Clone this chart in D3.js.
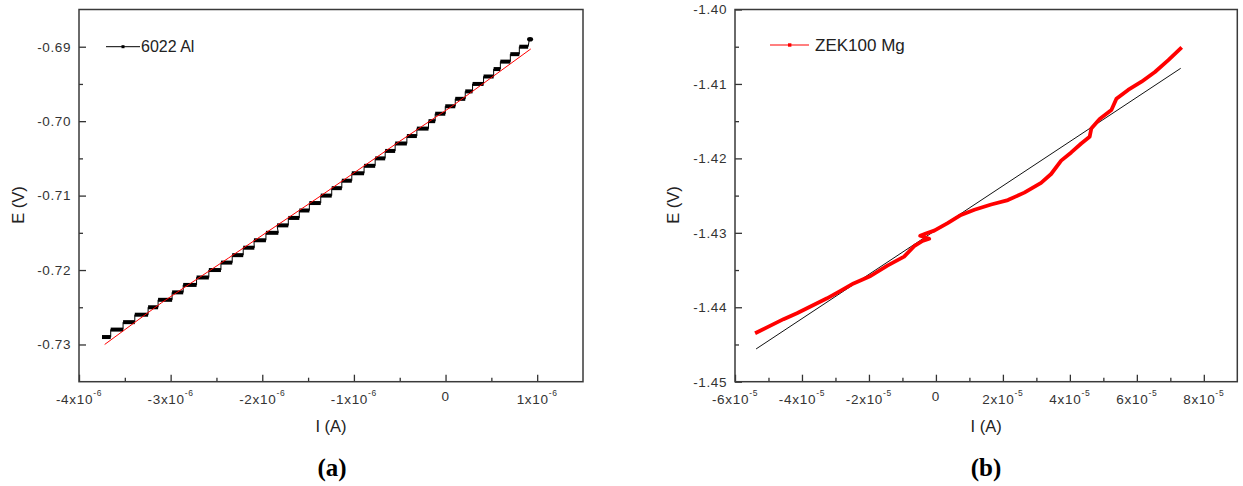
<!DOCTYPE html>
<html>
<head>
<meta charset="utf-8">
<script src="https://cdn.jsdelivr.net/npm/d3@7"></script>
<style>
  body { margin: 0; background: #fff; }
  svg { display: block; }
  text { font-family: Arial, "Liberation Sans", sans-serif; }
  text.caption { font-family: "Liberation Serif", "Times New Roman", serif; font-weight: bold; }
</style>
</head>
<body>
<svg id="chart" width="1243" height="486"></svg>
<script>
// ---- panel (a): 6022 Al, potential recorded in 1 mV steps ----
const alStepE = [-0.729, -0.728, -0.727, -0.726, -0.725, -0.724, -0.723, -0.722, -0.721, -0.720,
                 -0.719, -0.718, -0.717, -0.716, -0.715, -0.714, -0.713, -0.712, -0.711, -0.710,
                 -0.709, -0.708, -0.707, -0.706, -0.705, -0.704, -0.703, -0.702, -0.701, -0.700,
                 -0.699, -0.698, -0.697, -0.696, -0.695, -0.694, -0.693, -0.692, -0.691, -0.690, -0.689];
const alStepStart = [-3.749e-6, -3.654e-6, -3.519e-6, -3.391e-6, -3.246e-6, -3.137e-6, -2.984e-6, -2.863e-6, -2.717e-6, -2.583e-6,
                     -2.451e-6, -2.328e-6, -2.208e-6, -2.091e-6, -1.960e-6, -1.839e-6, -1.716e-6, -1.596e-6, -1.486e-6, -1.362e-6,
                     -1.242e-6, -1.132e-6, -1.023e-6, -0.889e-6, -0.768e-6, -0.659e-6, -0.550e-6, -0.422e-6, -0.313e-6, -0.186e-6,
                     -0.113e-6, -0.003e-6, 0.106e-6, 0.215e-6, 0.295e-6, 0.415e-6, 0.525e-6, 0.598e-6, 0.707e-6, 0.805e-6, 0.915e-6];
const alStepEnd = [-3.654e-6, -3.519e-6, -3.391e-6, -3.246e-6, -3.137e-6, -2.984e-6, -2.863e-6, -2.717e-6, -2.583e-6, -2.451e-6,
                   -2.328e-6, -2.208e-6, -2.087e-6, -1.960e-6, -1.825e-6, -1.716e-6, -1.596e-6, -1.486e-6, -1.362e-6, -1.242e-6,
                   -1.132e-6, -1.023e-6, -0.889e-6, -0.768e-6, -0.659e-6, -0.550e-6, -0.422e-6, -0.313e-6, -0.186e-6, -0.113e-6,
                   -0.003e-6, 0.106e-6, 0.215e-6, 0.295e-6, 0.415e-6, 0.525e-6, 0.598e-6, 0.707e-6, 0.805e-6, 0.901e-6, 0.930e-6];
// fitted line (red)
const alFitI = [-3.72e-6, -3.10e-6, -2.37e-6, -1.37e-6, -0.50e-6, 0.07e-6, 0.93e-6];
const alFitE = [-0.7300, -0.7244, -0.7184, -0.7101, -0.7027, -0.6980, -0.6903];

// ---- panel (b): ZEK100 Mg ----
const mgI = [-5.40e-5, -5.00e-5, -4.55e-5, -4.15e-5, -3.70e-5, -3.25e-5, -2.85e-5, -2.46e-5, -1.95e-5, -1.45e-5,
             -0.95e-5, -0.65e-5, -0.40e-5, -0.20e-5, -0.47e-5, -0.30e-5, -0.05e-5, 0.35e-5, 0.75e-5, 1.15e-5,
             1.65e-5, 2.15e-5, 2.64e-5, 3.14e-5, 3.44e-5, 3.74e-5, 4.04e-5, 4.34e-5, 4.59e-5, 4.64e-5,
             4.89e-5, 5.24e-5, 5.39e-5, 5.74e-5, 6.14e-5, 6.54e-5, 6.94e-5, 7.34e-5];
const mgE = [-1.4435, -1.4426, -1.4416, -1.4408, -1.4398, -1.4388, -1.4378, -1.4368, -1.4358, -1.4344,
             -1.4332, -1.4318, -1.4311, -1.4308, -1.4304, -1.4301, -1.4297, -1.4287, -1.4276, -1.4269,
             -1.4262, -1.4256, -1.4246, -1.4233, -1.4221, -1.4203, -1.4192, -1.4180, -1.4171, -1.4160,
             -1.4147, -1.4135, -1.4120, -1.4108, -1.4097, -1.4084, -1.4068, -1.4051];
// fitted line (black)
const mgFitI = [-5.37e-5, 7.31e-5];
const mgFitE = [-1.4456, -1.4079];

// ---- axes ----
const aXTicks = [-4e-6, -3e-6, -2e-6, -1e-6, 0, 1e-6];
const aXMinor = [-3.5e-6, -2.5e-6, -1.5e-6, -0.5e-6, 0.5e-6];
const aYTicks = [-0.73, -0.72, -0.71, -0.70, -0.69];
const aYMinor = [-0.725, -0.715, -0.705, -0.695];
const bXTicks = [-6e-5, -4e-5, -2e-5, 0, 2e-5, 4e-5, 6e-5, 8e-5];
const bXMinor = [-5e-5, -3e-5, -1e-5, 1e-5, 3e-5, 5e-5, 7e-5];
const bYTicks = [-1.45, -1.44, -1.43, -1.42, -1.41, -1.40];
const bYMinor = [-1.445, -1.435, -1.425, -1.415, -1.405];

const svg = d3.select("#chart");

function drawFrame(p) {
    const g = svg.append("g");
    const x = p.x, y = p.y;
    const [x0, x1] = x.range(), [y0, y1] = y.range();

    // inward major / minor ticks
    g.append("g").attr("transform", `translate(0,${y0})`)
        .call(d3.axisBottom(x).tickValues(p.xTicks).tickSizeInner(-7).tickSizeOuter(0).tickFormat(""));
    g.append("g").attr("transform", `translate(0,${y0})`)
        .call(d3.axisBottom(x).tickValues(p.xMinor).tickSizeInner(-4).tickSizeOuter(0).tickFormat(""));
    g.append("g").attr("transform", `translate(${x0},0)`)
        .call(d3.axisLeft(y).tickValues(p.yTicks).tickSizeInner(-7).tickSizeOuter(0).tickFormat(""));
    g.append("g").attr("transform", `translate(${x0},0)`)
        .call(d3.axisLeft(y).tickValues(p.yMinor).tickSizeInner(-4).tickSizeOuter(0).tickFormat(""));
    g.selectAll(".domain").remove();
    g.selectAll(".tick line").attr("stroke", "#333").attr("stroke-width", 1.3);

    // frame
    g.append("rect")
        .attr("x", x0).attr("y", y1)
        .attr("width", x1 - x0).attr("height", y0 - y1)
        .attr("fill", "none").attr("stroke", "#3a3a3a").attr("stroke-width", 1.5);

    // x tick labels with superscript exponent
    p.xTicks.forEach(v => {
        const t = g.append("text")
            .attr("x", x(v)).attr("y", v === 0 ? 401 : 404)
            .attr("text-anchor", "middle")
            .attr("font-size", 13.5).attr("fill", "#333")
            .attr("letter-spacing", 0.7);
        if (v === 0) { t.text("0"); return; }
        const m = Math.round(v / Math.pow(10, p.expo));
        t.append("tspan").text(m + "x10");
        t.append("tspan").attr("dy", -8).attr("font-size", 8.5).text(p.expo);
    });

    // y tick labels
    p.yTicks.forEach(v => {
        g.append("text")
            .attr("x", x0 - 8).attr("y", y(v)).attr("dy", "0.36em")
            .attr("text-anchor", "end")
            .attr("font-size", 13.5).attr("fill", "#333")
            .attr("letter-spacing", 0.6)
            .text(v.toFixed(2));
    });

    // axis titles
    g.append("text")
        .attr("x", (x0 + x1) / 2).attr("y", 432)
        .attr("text-anchor", "middle").attr("font-size", 16.5).attr("fill", "#222")
        .text("I (A)");
    g.append("text")
        .attr("transform", `translate(${p.yTitleX},205) rotate(-90)`)
        .attr("text-anchor", "middle").attr("dy", "0.36em")
        .attr("font-size", 16.5).attr("fill", "#222")
        .text("E (V)");

    // caption
    svg.append("text")
        .attr("class", "caption")
        .attr("x", p.captionX).attr("y", 476)
        .attr("text-anchor", "middle")
        .attr("font-size", 25)
        .text(p.caption);
}

// ---------- panel (a) ----------
const xa = d3.scaleLinear().domain([-4e-6, 1.5e-6]).range([79, 583]);
const ya = d3.scaleLinear().domain([-0.735, -0.685]).range([381.7, 9.5]);

drawFrame({ x: xa, y: ya, xTicks: aXTicks, xMinor: aXMinor, yTicks: aYTicks, yMinor: aYMinor,
            expo: -6, yTitleX: 18, caption: "(a)", captionX: 332 });

const steps = alStepE.map((e, i) => ({ e: e, i0: alStepStart[i], i1: alStepEnd[i] }));
const stairPts = [];
steps.forEach(s => { stairPts.push([s.i0, s.e]); stairPts.push([s.i1, s.e]); });

const gA = svg.append("g");
gA.append("path")
    .datum(stairPts)
    .attr("fill", "none").attr("stroke", "#000").attr("stroke-width", 1)
    .attr("d", d3.line().x(d => xa(d[0])).y(d => ya(d[1])));

gA.selectAll("line.step")
    .data(steps.slice(0, -1))
    .join("line")
    .attr("class", "step")
    .attr("x1", d => xa(d.i0)).attr("x2", d => xa(d.i1))
    .attr("y1", d => ya(d.e)).attr("y2", d => ya(d.e))
    .attr("stroke", "#000").attr("stroke-width", 4);

const lastStep = steps[steps.length - 1];
gA.append("ellipse")
    .attr("cx", xa((lastStep.i0 + lastStep.i1) / 2)).attr("cy", ya(lastStep.e))
    .attr("rx", 3).attr("ry", 2.3).attr("fill", "#000");

gA.append("path")
    .datum(alFitI.map((v, i) => [v, alFitE[i]]))
    .attr("fill", "none").attr("stroke", "#ff0000").attr("stroke-width", 1)
    .attr("d", d3.line().x(d => xa(d[0])).y(d => ya(d[1])));

// legend (a)
const legA = svg.append("g");
legA.append("line").attr("x1", 106).attr("x2", 140).attr("y1", 46.7).attr("y2", 46.7)
    .attr("stroke", "#000").attr("stroke-width", 1);
legA.append("rect").attr("x", 121.5).attr("y", 45.2).attr("width", 3).attr("height", 3).attr("fill", "#000");
legA.append("text").attr("x", 141).attr("y", 46.7).attr("dy", "0.36em")
    .attr("font-size", 16).attr("fill", "#222").text("6022 Al");

// ---------- panel (b) ----------
const xb = d3.scaleLinear().domain([-6e-5, 9e-5]).range([735, 1237.3]);
const yb = d3.scaleLinear().domain([-1.45, -1.40]).range([381.7, 9.5]);

drawFrame({ x: xb, y: yb, xTicks: bXTicks, xMinor: bXMinor, yTicks: bYTicks, yMinor: bYMinor,
            expo: -5, yTitleX: 673, caption: "(b)", captionX: 986 });

const gB = svg.append("g");
gB.append("path")
    .datum(mgFitI.map((v, i) => [v, mgFitE[i]]))
    .attr("fill", "none").attr("stroke", "#111").attr("stroke-width", 1)
    .attr("d", d3.line().x(d => xb(d[0])).y(d => yb(d[1])));

gB.append("path")
    .datum(mgI.map((v, i) => [v, mgE[i]]))
    .attr("fill", "none").attr("stroke", "#ff0000").attr("stroke-width", 3.8)
    .attr("stroke-linejoin", "round")
    .attr("d", d3.line().x(d => xb(d[0])).y(d => yb(d[1])));

// legend (b)
const legB = svg.append("g");
legB.append("line").attr("x1", 770).attr("x2", 809).attr("y1", 45).attr("y2", 45)
    .attr("stroke", "#ff0000").attr("stroke-width", 1.2);
legB.append("rect").attr("x", 788).attr("y", 43.3).attr("width", 3.4).attr("height", 3.4).attr("fill", "#ff0000");
legB.append("text").attr("x", 815).attr("y", 45).attr("dy", "0.36em")
    .attr("font-size", 17).attr("fill", "#222").text("ZEK100 Mg");
</script>
</body>
</html>
